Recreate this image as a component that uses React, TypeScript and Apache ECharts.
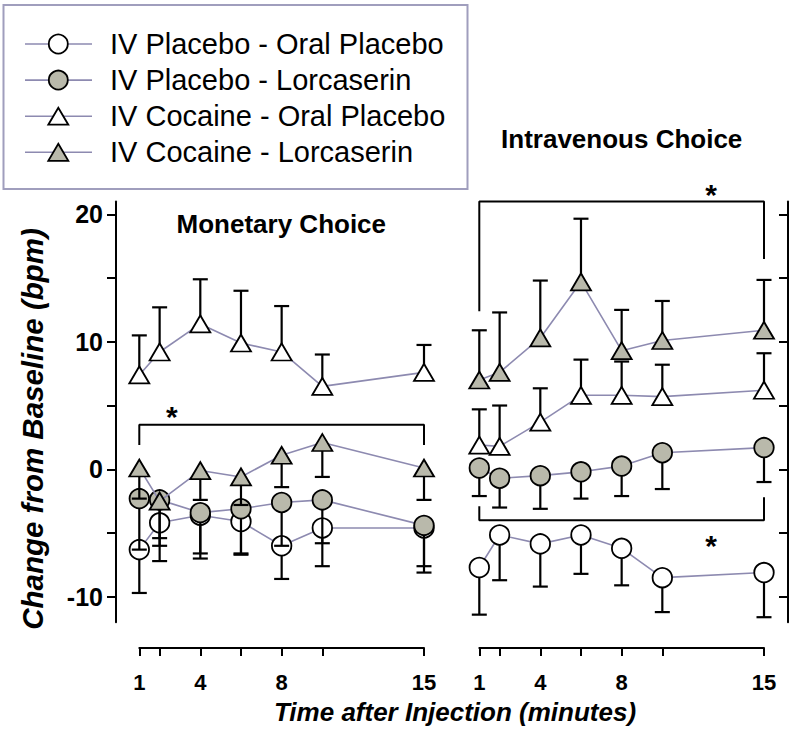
import React, { useEffect, useRef } from "react";
import * as echarts from "echarts";

// ---- Data ----
const timePoints = [1, 2, 4, 6, 8, 10, 15];
const xTickValues = [1, 2, 4, 6, 8, 10, 15];
const xLabelValues = [1, 4, 8, 15];
const yTickValues = [-10, -5, 0, 5, 10, 15, 20];
const yLabelValues = [-10, 0, 10, 20];

const seriesNames = [
  "IV Placebo - Oral Placebo",
  "IV Placebo - Lorcaserin",
  "IV Cocaine - Oral Placebo",
  "IV Cocaine - Lorcaserin",
];

// Monetary Choice panel (means and SEM)
const monIvpOpMean = [-6.3, -4.2, -3.6, -4.1, -6.0, -4.6, -4.6];
const monIvpOpSem = [3.4, 3.0, 3.4, 2.6, 2.6, 3.0, 3.5];
const monIvpLMean = [-2.3, -2.4, -3.4, -3.1, -2.6, -2.4, -4.4];
const monIvpLSem = [4.0, 3.6, 3.2, 3.5, 3.4, 3.4, 3.2];
const monIvcOpMean = [7.4, 9.2, 11.4, 9.9, 9.2, 6.5, 7.6];
const monIvcOpSem = [3.1, 3.5, 3.5, 4.1, 3.6, 2.5, 2.15];
const monIvcLMean = [0.1, -2.5, -0.1, -0.6, 1.1, 2.1, 0.1];
const monIvcLSem = [2.4, 2.9, 2.3, 2.2, 2.5, 2.7, 2.5];
const monErrDir = [-1, -1, 1, -1];

// Intravenous Choice panel (means and SEM)
const ivIvpOpMean = [-7.7, -5.15, -5.85, -5.15, -6.2, -8.5, -8.1];
const ivIvpOpSem = [3.7, 3.55, 3.35, 3.05, 2.9, 2.7, 3.5];
const ivIvpLMean = [0.1, -0.7, -0.5, -0.2, 0.25, 1.3, 1.7];
const ivIvpLSem = [2.2, 2.3, 2.6, 2.1, 2.35, 2.85, 2.7];
const ivIvcOpMean = [1.9, 1.8, 3.7, 5.8, 5.8, 5.7, 6.2];
const ivIvcOpSem = [2.8, 3.2, 2.65, 2.8, 2.65, 2.5, 2.9];
const ivIvcLMean = [7.0, 7.6, 10.3, 14.7, 9.3, 10.1, 10.9];
const ivIvcLSem = [3.9, 4.7, 4.5, 4.95, 3.2, 3.1, 3.95];
const ivErrDir = [-1, -1, 1, 1];

// Significance brackets and asterisks (data coordinates)
const monBracket = [[1, 1.9], [1, 3.5], [15, 3.5], [15, 1.9]];
const monStars = [[2.6, 4.6]];
const ivTopBracket = [[1, 12.4], [1, 21.0], [15, 21.0], [15, 16.5]];
const ivBottomBracket = [[1, -2.9], [1, -4.0], [15, -4.0], [15, -2.2]];
const ivStars = [[12.4, 22.0], [12.4, -5.5]];

// ---- Styles ----
const FONT = '"Liberation Sans", Arial, Helvetica, sans-serif';
const LINE_COLOR = "#8d8ab0";
const GRAY_FILL = "#b9b9ab";
const WHITE = "#ffffff";
const markerFill = [WHITE, GRAY_FILL, WHITE, GRAY_FILL];
const markerSymbol = ["circle", "circle", "triangle", "triangle"];
const markerSize: any[] = [19.5, 19.5, [20, 17], [20, 17]];

const Y_MIN = -12;
const Y_MAX = 21;

function buildPanelSeries(
  panel: number,
  means: number[][],
  sems: number[][],
  dirs: number[]
) {
  const out: any[] = [];
  means.forEach((mean, k) => {
    const errData = timePoints.map((t, i) => [t, mean[i], mean[i] + dirs[k] * sems[k][i]]);
    out.push({
      type: "custom",
      name: seriesNames[k] + " SEM",
      xAxisIndex: panel,
      yAxisIndex: panel,
      z: 2 + 2 * k,
      clip: false,
      encode: { x: 0, y: [1, 2] },
      data: errData,
      renderItem: (params: any, api: any) => {
        const x = api.value(0);
        const m = api.value(1);
        const e = api.value(2);
        const p0 = api.coord([x, m]);
        const p1 = api.coord([x, e]);
        const st = { stroke: "#000", lineWidth: 2.2 };
        return {
          type: "group",
          children: [
            { type: "line", shape: { x1: p0[0], y1: p0[1], x2: p1[0], y2: p1[1] }, style: st },
            { type: "line", shape: { x1: p1[0] - 7.5, y1: p1[1], x2: p1[0] + 7.5, y2: p1[1] }, style: st },
          ],
        };
      },
    });
    out.push({
      type: "line",
      name: seriesNames[k],
      xAxisIndex: panel,
      yAxisIndex: panel,
      z: 3 + 2 * k,
      clip: false,
      data: timePoints.map((t, i) => [t, mean[i]]),
      symbol: markerSymbol[k],
      symbolSize: markerSize[k],
      showAllSymbol: true,
      lineStyle: { color: LINE_COLOR, width: 1.6 },
      itemStyle: { color: markerFill[k], borderColor: "#000", borderWidth: 1.8, opacity: 1 },
      emphasis: { disabled: true },
    });
  });
  return out;
}

function bracketSeries(panel: number, pts: number[][]) {
  return {
    type: "line",
    xAxisIndex: panel,
    yAxisIndex: panel,
    z: 30,
    clip: false,
    symbol: "none",
    data: pts,
    lineStyle: { color: "#000", width: 2 },
    emphasis: { disabled: true },
  };
}

function starSeries(panel: number, pts: number[][]) {
  return {
    type: "custom",
    xAxisIndex: panel,
    yAxisIndex: panel,
    z: 30,
    clip: false,
    data: pts,
    encode: { x: 0, y: 1 },
    renderItem: (params: any, api: any) => {
      const p = api.coord([api.value(0), api.value(1)]);
      return {
        type: "text",
        x: p[0],
        y: p[1] + 6,
        style: {
          text: "*",
          fontSize: 30,
          fontWeight: "bold",
          fontFamily: FONT,
          fill: "#000",
          align: "center",
          verticalAlign: "middle",
        },
      };
    },
  };
}

function xAxisFor(gridIndex: number) {
  return {
    type: "value",
    gridIndex,
    min: 1,
    max: 15,
    position: "bottom",
    offset: 25.7,
    axisLine: { show: true, onZero: false, lineStyle: { color: "#000", width: 2 } },
    axisTick: { show: true, customValues: xTickValues, length: 8, lineStyle: { color: "#000", width: 2 } },
    axisLabel: {
      show: true,
      customValues: xLabelValues,
      color: "#000",
      fontSize: 22,
      fontWeight: "bold",
      fontFamily: FONT,
      margin: 23,
    },
    splitLine: { show: false },
  };
}

function yAxisFor(gridIndex: number, right: boolean) {
  return {
    type: "value",
    gridIndex,
    min: Y_MIN,
    max: Y_MAX,
    position: right ? "right" : "left",
    offset: right ? 24 : 23.3,
    axisLine: { show: true, onZero: false, lineStyle: { color: "#000", width: 2 } },
    axisTick: {
      show: true,
      inside: right,
      customValues: yTickValues,
      length: 9,
      lineStyle: { color: "#000", width: 2 },
    },
    axisLabel: {
      show: !right,
      customValues: yLabelValues,
      color: "#000",
      fontSize: 25,
      fontWeight: "bold",
      fontFamily: FONT,
      margin: 13,
    },
    splitLine: { show: false },
  };
}

function legendGraphics() {
  const els: any[] = [];
  els.push({
    type: "rect",
    shape: { x: 3.5, y: 5, width: 464, height: 184 },
    style: { fill: "none", stroke: "#a09ebd", lineWidth: 2 },
  });
  seriesNames.forEach((name, k) => {
    const y = 44 + 36.1 * k;
    els.push({
      type: "line",
      shape: { x1: 25, y1: y, x2: 92, y2: y },
      style: { stroke: LINE_COLOR, lineWidth: 1.6 },
    });
    if (markerSymbol[k] === "circle") {
      els.push({
        type: "circle",
        shape: { cx: 58.3, cy: y, r: 9.5 },
        style: { fill: markerFill[k], stroke: "#000", lineWidth: 1.8 },
      });
    } else {
      els.push({
        type: "polygon",
        shape: { points: [[58.3, y - 8.5], [68.3, y + 8.5], [48.3, y + 8.5]] },
        style: { fill: markerFill[k], stroke: "#000", lineWidth: 1.8 },
      });
    }
    els.push({
      type: "text",
      x: 110,
      y: y,
      style: {
        text: name,
        fontSize: 29,
        fontFamily: FONT,
        fill: "#000",
        align: "left",
        verticalAlign: "middle",
      },
    });
  });
  return els;
}

export default function App() {
  const ref = useRef<HTMLDivElement>(null);
  useEffect(() => {
    if (!ref.current) return;
    const chart = echarts.init(ref.current, null, { renderer: "svg" });
    const series = [
      ...buildPanelSeries(
        0,
        [monIvpOpMean, monIvpLMean, monIvcOpMean, monIvcLMean],
        [monIvpOpSem, monIvpLSem, monIvcOpSem, monIvcLSem],
        monErrDir
      ),
      ...buildPanelSeries(
        1,
        [ivIvpOpMean, ivIvpLMean, ivIvcOpMean, ivIvcLMean],
        [ivIvpOpSem, ivIvpLSem, ivIvcOpSem, ivIvcLSem],
        ivErrDir
      ),
      bracketSeries(0, monBracket),
      starSeries(0, monStars),
      bracketSeries(1, ivTopBracket),
      bracketSeries(1, ivBottomBracket),
      starSeries(1, ivStars),
    ];
    chart.setOption({
      animation: false,
      backgroundColor: "#ffffff",
      grid: [
        { left: 139.3, top: 201.5, width: 284.7, height: 420.8 },
        { left: 479.3, top: 201.5, width: 284.7, height: 420.8 },
      ],
      xAxis: [xAxisFor(0), xAxisFor(1)],
      yAxis: [yAxisFor(0, false), yAxisFor(1, true)],
      series,
      graphic: [
        ...legendGraphics(),
        {
          type: "text",
          x: 281.3,
          y: 224,
          style: {
            text: "Monetary Choice",
            fontSize: 26,
            fontWeight: "bold",
            fontFamily: FONT,
            fill: "#000",
            align: "center",
            verticalAlign: "middle",
          },
        },
        {
          type: "text",
          x: 621.7,
          y: 139,
          style: {
            text: "Intravenous Choice",
            fontSize: 26,
            fontWeight: "bold",
            fontFamily: FONT,
            fill: "#000",
            align: "center",
            verticalAlign: "middle",
          },
        },
        {
          type: "text",
          x: 32,
          y: 429,
          rotation: Math.PI / 2,
          style: {
            text: "Change from Baseline (bpm)",
            fontSize: 29.5,
            fontWeight: "bold",
            fontStyle: "italic",
            fontFamily: FONT,
            fill: "#000",
            align: "center",
            verticalAlign: "middle",
          },
        },
        {
          type: "text",
          x: 455,
          y: 712,
          style: {
            text: "Time after Injection (minutes)",
            fontSize: 26,
            fontWeight: "bold",
            fontStyle: "italic",
            fontFamily: FONT,
            fill: "#000",
            align: "center",
            verticalAlign: "middle",
          },
        },
      ],
    });
    return () => chart.dispose();
  }, []);
  return (
    <div
      ref={ref}
      style={{ position: "absolute", left: 0, top: 0, width: 800, height: 740, background: "#fff" }}
    />
  );
}
